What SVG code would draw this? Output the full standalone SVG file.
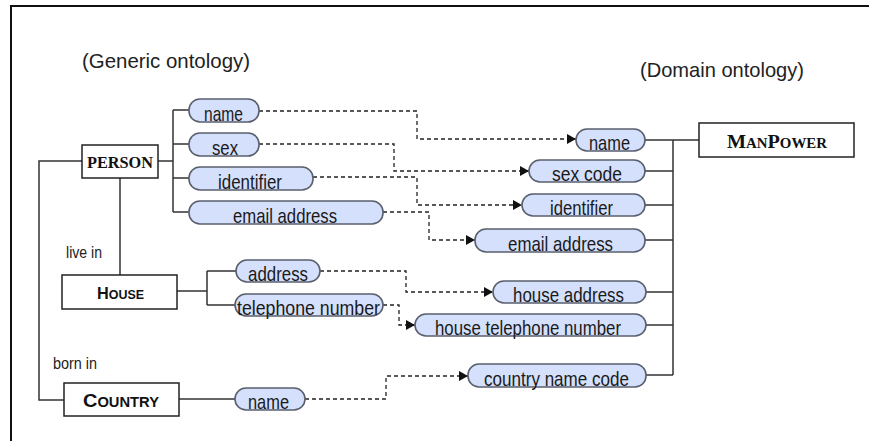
<svg xmlns="http://www.w3.org/2000/svg" width="869" height="441" viewBox="0 0 869 441">
<style>
.frame{fill:none;stroke:#111;stroke-width:2}
.box{fill:#fff;stroke:#222;stroke-width:1.5}
.pill{fill:#d5e0fd;stroke:#5a5f6e;stroke-width:1.6}
.ptxt{font-family:"Liberation Sans",Arial,sans-serif;font-size:21px;fill:#1a1a1a}
.title{font-family:"Liberation Sans",Arial,sans-serif;font-size:21px;fill:#222}
.lbl{font-family:"Liberation Sans",Arial,sans-serif;font-size:16px;fill:#222}
.serif{font-family:"Liberation Serif","Times New Roman",serif;font-weight:bold;fill:#111}
.sans{font-family:"Liberation Sans",Arial,sans-serif;font-weight:bold;fill:#111}
.solid{fill:none;stroke:#333;stroke-width:1.5}
.dash{fill:none;stroke:#222;stroke-width:1.3;stroke-dasharray:4 3;marker-end:url(#arr)}
</style>
<defs>
<marker id="arr" markerUnits="userSpaceOnUse" markerWidth="9" markerHeight="10" refX="9" refY="5" orient="auto">
<path d="M0,0 L9,5 L0,10 Z" fill="#111"/>
</marker>
</defs>
<rect width="869" height="441" fill="#fff"/>
<path class="frame" d="M11,441 V6 H869"/>
<text class="title" x="82" y="68" textLength="168" lengthAdjust="spacingAndGlyphs">(Generic ontology)</text>
<text class="title" x="640" y="77" textLength="164" lengthAdjust="spacingAndGlyphs">(Domain ontology)</text>
<text class="lbl" x="66" y="258" textLength="36" lengthAdjust="spacingAndGlyphs">live in</text>
<text class="lbl" x="53" y="369" textLength="44" lengthAdjust="spacingAndGlyphs">born in</text>

<g id="connectors">
<path class="solid" d="M82,161 H39 V400 H64"/>
<path class="solid" d="M120,178 V275"/>
<path class="solid" d="M158,161 H173 M173,110 V212 M173,110 H189 M173,144 H189 M173,178 H189 M173,212 H189"/>
<path class="solid" d="M177,291 H207 M207,271 V305 M207,271 H236 M207,305 H235"/>
<path class="solid" d="M179,399 H235"/>
<path class="solid" d="M645,140 H699 M673,140 V375 M645,171 H673 M645,205 H673 M645,240 H673 M646,292 H673 M646,325 H673 M646,375 H673"/>
<path class="dash" d="M259,111 H417 V139 H576"/>
<path class="dash" d="M259,144 H394 V171 H529"/>
<path class="dash" d="M313,177 H417 V205 H522"/>
<path class="dash" d="M383,212 H429 V240 H475"/>
<path class="dash" d="M320,271 H406 V292 H493"/>
<path class="dash" d="M383,305 H399 V325 H415"/>
<path class="dash" d="M305,399 H386 V376 H468"/>
</g>

<g id="person">
<rect class="box" x="82" y="145" width="76" height="33"/>
<text class="serif" x="87" y="168" font-size="16" textLength="66" lengthAdjust="spacingAndGlyphs">PERSON</text>
</g>
<g id="house">
<rect class="box" x="62" y="275" width="115" height="34"/>
<text class="sans" x="97" y="299" textLength="47" lengthAdjust="spacingAndGlyphs"><tspan font-size="17">H</tspan><tspan font-size="13">OUSE</tspan></text>
</g>
<g id="country">
<rect class="box" x="64" y="383" width="115" height="33"/>
<text class="sans" x="83" y="407" textLength="76" lengthAdjust="spacingAndGlyphs"><tspan font-size="19">C</tspan><tspan font-size="14">OUNTRY</tspan></text>
</g>
<g id="manpower">
<rect class="box" x="699" y="123" width="155" height="34"/>
<text class="serif" x="727" y="148" textLength="100" lengthAdjust="spacingAndGlyphs"><tspan font-size="19">M</tspan><tspan font-size="14">AN</tspan><tspan font-size="19">P</tspan><tspan font-size="14">OWER</tspan></text>
</g>

<g id="g-name"><rect class="pill" x="189" y="99" width="70" height="23" rx="11"/><text class="ptxt" x="204" y="121" textLength="39" lengthAdjust="spacingAndGlyphs">name</text></g>
<g id="g-sex"><rect class="pill" x="189" y="133" width="70" height="23" rx="11"/><text class="ptxt" x="212" y="155" textLength="26" lengthAdjust="spacingAndGlyphs">sex</text></g>
<g id="g-identifier"><rect class="pill" x="189" y="167" width="124" height="23" rx="11"/><text class="ptxt" x="218" y="189" textLength="64" lengthAdjust="spacingAndGlyphs">identifier</text></g>
<g id="g-email"><rect class="pill" x="189" y="201" width="194" height="23" rx="11"/><text class="ptxt" x="233" y="223" textLength="104" lengthAdjust="spacingAndGlyphs">email address</text></g>
<g id="h-address"><rect class="pill" x="236" y="260" width="84" height="22" rx="11"/><text class="ptxt" x="248" y="281" textLength="60" lengthAdjust="spacingAndGlyphs">address</text></g>
<g id="h-telephone"><rect class="pill" x="235" y="294" width="148" height="22" rx="11"/><text class="ptxt" x="237" y="315" textLength="143" lengthAdjust="spacingAndGlyphs">telephone number</text></g>
<g id="c-name"><rect class="pill" x="235" y="388" width="70" height="22" rx="11"/><text class="ptxt" x="248" y="409" textLength="41" lengthAdjust="spacingAndGlyphs">name</text></g>

<g id="d-name"><rect class="pill" x="576" y="129" width="69" height="22" rx="11"/><text class="ptxt" x="589" y="150" textLength="41" lengthAdjust="spacingAndGlyphs">name</text></g>
<g id="d-sexcode"><rect class="pill" x="529" y="160" width="116" height="22" rx="11"/><text class="ptxt" x="552" y="181" textLength="70" lengthAdjust="spacingAndGlyphs">sex code</text></g>
<g id="d-identifier"><rect class="pill" x="522" y="194" width="123" height="22" rx="11"/><text class="ptxt" x="550" y="215" textLength="63" lengthAdjust="spacingAndGlyphs">identifier</text></g>
<g id="d-email"><rect class="pill" x="475" y="229" width="170" height="23" rx="11"/><text class="ptxt" x="508" y="251" textLength="105" lengthAdjust="spacingAndGlyphs">email address</text></g>
<g id="d-houseaddress"><rect class="pill" x="493" y="281" width="153" height="22" rx="11"/><text class="ptxt" x="513" y="302" textLength="111" lengthAdjust="spacingAndGlyphs">house address</text></g>
<g id="d-housetel"><rect class="pill" x="415" y="314" width="231" height="22" rx="11"/><text class="ptxt" x="435" y="335" textLength="186" lengthAdjust="spacingAndGlyphs">house telephone number</text></g>
<g id="d-country"><rect class="pill" x="468" y="364" width="178" height="23" rx="11"/><text class="ptxt" x="484" y="386" textLength="145" lengthAdjust="spacingAndGlyphs">country name code</text></g>
</svg>
